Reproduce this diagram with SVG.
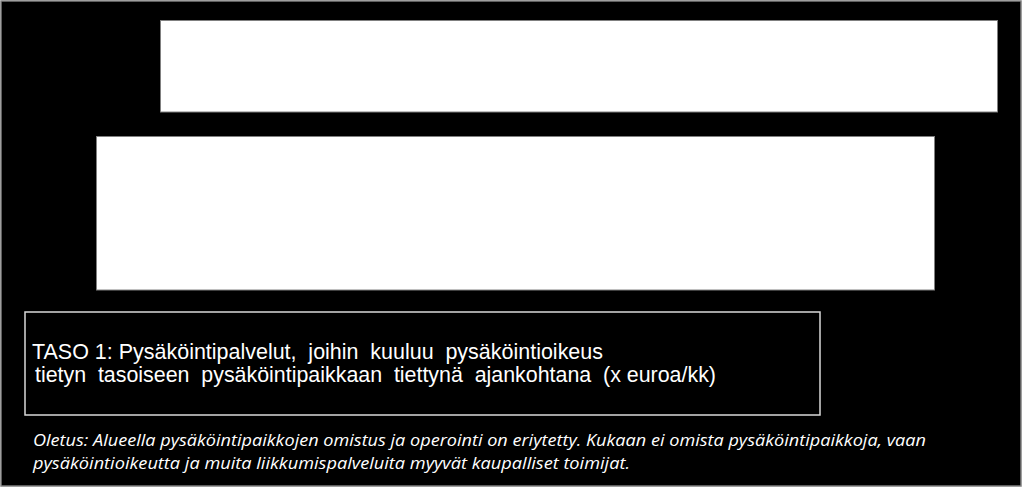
<svg xmlns="http://www.w3.org/2000/svg" width="1023" height="488" viewBox="0 0 1023 488">
<style>
.bg{fill:#000;stroke:#7f7f7f;stroke-width:1.5}
.panel{fill:#fff;stroke:#808080;stroke-width:1}
.box{fill:#000;stroke:#d9d9d9;stroke-width:1.5}
.t{font-family:"Liberation Sans",Arial,sans-serif;font-size:22px;fill:#fff}
.w{word-spacing:6px}
.n{font-family:"Open Sans","Liberation Sans",sans-serif;font-style:italic;font-size:15.5px;fill:#fff}
</style>
<rect class="bg" x="1" y="1" width="1020" height="485"/>
<g id="panel-top"><rect class="panel" x="160.5" y="20.5" width="837" height="91.5"/></g>
<g id="panel-middle"><rect class="panel" x="96.5" y="136.5" width="838" height="153.5"/></g>
<g id="taso1">
<rect class="box" x="25" y="312" width="795" height="103"/>
<text class="t" x="32" y="359" textLength="571" lengthAdjust="spacingAndGlyphs">TASO 1: Pysäköintipalvelut,<tspan class="w"> joihin kuuluu pysäköintioikeus</tspan></text>
<text class="t" x="35" y="382" textLength="681" lengthAdjust="spacingAndGlyphs"><tspan class="w">tietyn tasoiseen pysäköintipaikkaan tiettynä ajankohtana </tspan>(x euroa/kk)</text>
</g>
<g id="note">
<text class="n" x="33" y="446" textLength="893" lengthAdjust="spacingAndGlyphs">Oletus: Alueella pysäköintipaikkojen omistus ja operointi on eriytetty. Kukaan ei omista pysäköintipaikkoja, vaan</text>
<text class="n" x="33" y="469" textLength="597" lengthAdjust="spacingAndGlyphs">pysäköintioikeutta ja muita liikkumispalveluita myyvät kaupalliset toimijat.</text>
</g>
<g id="connectors"></g>
</svg>
